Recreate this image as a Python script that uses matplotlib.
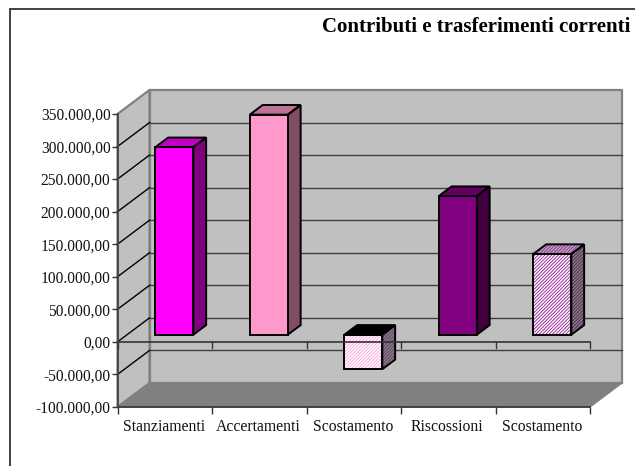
import matplotlib
matplotlib.use("Agg")
import matplotlib.pyplot as plt
from matplotlib.patches import Polygon, Rectangle
from matplotlib.transforms import Affine2D
from matplotlib.ticker import FuncFormatter

plt.rcParams['font.family'] = ['Liberation Serif', 'DejaVu Serif']
plt.rcParams['hatch.linewidth'] = 0.7

categories = ["Stanziamenti", "Accertamenti", "Scostamento", "Riscossioni", "Scostamento"]
values = [288000, 338000, -53000, 213000, 124000]
y_ticks = [-100000, -50000, 0, 50000, 100000, 150000, 200000, 250000, 300000, 350000]
title = "Contributi e trasferimenti correnti"

front_colors = ["#FF00FF", "#FF99CC", "#FFFFFF", "#800080", "#FFFFFF"]
hatch_colors = [None, None, "#FFA8E0", None, "#A030A0"]
top_colors = ["#BF00BF", "#BF7399", "#000000", "#600060", "#C8A0C8"]
top_hatch = [None, None, None, None, "#804080"]
side_colors = ["#800080", "#804D66", "#8A7A8A", "#400040", "#8A7A8A"]
side_hatch = [None, None, "#604860", None, "#503050"]

W, H = 635, 466
fig = plt.figure(figsize=(W / 100, H / 100), dpi=100)
fig.patch.set_facecolor("white")

fig.add_artist(Rectangle((10 / W, -0.1), 1.1, 0.1 + (H - 9) / H,
                         transform=fig.transFigure, fill=False, ec="#333333", lw=1.3))

L, R, T, B = 117.5, 590, 114, 407
ax = fig.add_axes([L / W, (H - B) / H, (R - L) / W, (B - T) / H])
ax.set_xlim(0, 5)
ax.set_ylim(-100000, 350000)
ax.patch.set_visible(False)
for s in ax.spines.values():
    s.set_visible(False)

DX, DY = 32, 24
BAR_F, BAR_B = 0.30, 0.70

def depth(f):
    return ax.transData + Affine2D().translate(DX * f, DY * f)

def face(points, fc, hc=None, z=3):
    ax.add_patch(Polygon(points, closed=True, transform=None, fc=fc, ec=hc if hc else fc, lw=0,
                         hatch="/" * 10 if hc else None, zorder=z, clip_on=False))
    ax.add_patch(Polygon(points, closed=True, transform=None, fill=False, ec="black", lw=1.4,
                         zorder=z + 0.1, clip_on=False))

base = ax.transData
back = depth(1)
ymin, ymax = -100000, 350000

ax.add_patch(Polygon([(0, ymin), (5, ymin), (5, ymax), (0, ymax)], closed=True, transform=back,
                     fc="#C0C0C0", ec="#808080", lw=1.6, zorder=1, clip_on=False))
p0 = base.transform((0, ymin)); p1 = base.transform((0, ymax))
q0 = back.transform((0, ymin)); q1 = back.transform((0, ymax))
ax.add_patch(Polygon([p0, p1, q1, q0], closed=True, transform=None,
                     fc="#C0C0C0", ec="#808080", lw=1.6, zorder=1, clip_on=False))
r0 = base.transform((5, ymin)); r1 = back.transform((5, ymin))
ax.add_patch(Polygon([p0, r0, r1, q0], closed=True, transform=None,
                     fc="#808080", ec="#808080", lw=1.0, zorder=1.5, clip_on=False))

for t in y_ticks:
    if t in (ymin, ymax):
        continue
    ax.plot([0, 5], [t, t], transform=back, color="#404040", lw=1.0, zorder=2, clip_on=False)
    a, b = base.transform((0, t)), back.transform((0, t))
    ax.plot([a[0], b[0]], [a[1], b[1]], transform=None, color="black", lw=1.0, zorder=2, clip_on=False)

bar_w = 38 / ((R - L) / 5)
for i, v in enumerate(values):
    c = i + 0.5
    x0, x1 = c - bar_w / 2, c + bar_w / 2
    y_hi = max(v, 0)
    tf = depth(BAR_F)
    tb = depth(BAR_B)
    face([tf.transform((x1, 0)), tf.transform((x1, v)), tb.transform((x1, v)), tb.transform((x1, 0))],
         side_colors[i], side_hatch[i])
    face([tf.transform((x0, y_hi)), tf.transform((x1, y_hi)), tb.transform((x1, y_hi)), tb.transform((x0, y_hi))],
         top_colors[i], top_hatch[i])
    hc = hatch_colors[i]
    ax.bar(c, v, width=bar_w, color=front_colors[i], edgecolor=hc if hc else "black", lw=0,
           hatch="/" * 10 if hc else None, transform=tf, zorder=4, clip_on=False)
    ax.bar(c, v, width=bar_w, fill=False, edgecolor="black", lw=1.4, transform=tf, zorder=5, clip_on=False)

ax.plot([0, 5], [0, 0], color="#333333", lw=1.2, zorder=6, clip_on=False)
ax.plot([0, 5], [ymin, ymin], color="#333333", lw=1.2, zorder=6, clip_on=False)
ax.plot([0, 0], [ymin, ymax], color="#444444", lw=1.3, zorder=6, clip_on=False)
for i in range(6):
    ax.plot([i, i], [0, -9000], color="#333333", lw=1.0, zorder=6, clip_on=False)

ax.set_yticks(y_ticks)
ax.yaxis.set_major_formatter(FuncFormatter(
    lambda v, _: f"{v:,.2f}".replace(",", "X").replace(".", ",").replace("X", ".")))
ax.tick_params(axis="y", length=4, width=1.0, color="#333333", labelsize=11.2, pad=1, labelcolor="#111111")
ax.set_xticks(range(6))
ax.set_xticklabels([""] * 6)
ax.tick_params(axis="x", length=5, width=1.0, color="#333333")
for i, name in enumerate(categories):
    ax.annotate(name, (i + 0.5, ymin), xytext=(-1, -20), textcoords="offset pixels",
                ha="center", va="center", fontsize=11.3, color="#111111", annotation_clip=False)

fig.text(322 / W, 1 - 27 / H, title, fontsize=15, fontweight="bold", ha="left", va="center", color="black")

fig.savefig("out.png", dpi=100)
